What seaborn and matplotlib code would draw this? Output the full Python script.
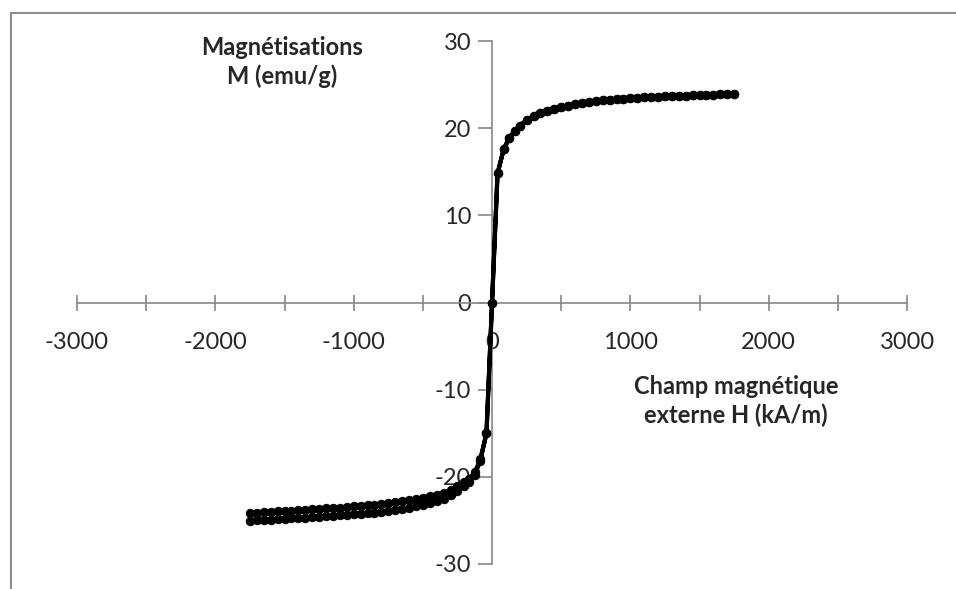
import pandas as pd
import matplotlib.pyplot as plt
import seaborn as sns
from matplotlib.lines import Line2D

# champ positif (les deux branches se superposent)
h_pos = [0, 40, 85, 125, 165, 200, 250, 300, 350, 400, 450, 500, 550, 600,
         650, 700, 750, 800, 850, 900, 950, 1000, 1050, 1100, 1150, 1200,
         1250, 1300, 1350, 1400, 1450, 1500, 1550, 1600, 1650, 1700, 1750]
m_pos = [0.0, 14.8, 17.6, 18.9, 19.7, 20.3, 20.9, 21.4, 21.7, 22.0, 22.25,
         22.45, 22.6, 22.75, 22.9, 23.0, 23.1, 23.2, 23.25, 23.3, 23.38,
         23.43, 23.48, 23.52, 23.56, 23.6, 23.64, 23.68, 23.71, 23.74, 23.77,
         23.8, 23.83, 23.86, 23.89, 23.92, 23.95]

# champ negatif (deux branches distinctes)
h_neg = [-40, -85, -125, -165, -200, -250, -300, -350, -400, -450, -500,
         -550, -600, -650, -700, -750, -800, -850, -900, -950, -1000, -1050,
         -1100, -1150, -1200, -1250, -1300, -1350, -1400, -1450, -1500,
         -1550, -1600, -1650, -1700, -1750]
m_neg_haut = [-15.0, -18.0, -19.5, -20.2, -20.6, -21.1, -21.5, -21.8, -22.05,
              -22.25, -22.4, -22.55, -22.7, -22.8, -22.9, -23.0, -23.1, -23.2,
              -23.25, -23.33, -23.4, -23.46, -23.52, -23.58, -23.63, -23.68,
              -23.73, -23.78, -23.82, -23.87, -23.91, -23.95, -24.0, -24.05,
              -24.1, -24.2]
m_neg_bas = [-15.0, -18.2, -19.8, -20.6, -21.0, -21.6, -22.1, -22.5, -22.8,
             -23.05, -23.2, -23.4, -23.55, -23.68, -23.8, -23.9, -24.0, -24.1,
             -24.15, -24.23, -24.3, -24.36, -24.42, -24.48, -24.53, -24.58,
             -24.63, -24.68, -24.72, -24.77, -24.81, -24.85, -24.9, -24.95,
             -25.0, -25.1]

x_labels = [-3000, -2000, -1000, 0, 1000, 2000, 3000]
x_minor = [-2500, -1500, -500, 500, 1500, 2500]
y_labels = [-30, -20, -10, 0, 10, 20, 30]

# boucle : descente de +1750 a -1750 puis remontee
loop = pd.DataFrame({
    "H": h_pos[::-1] + h_neg + h_neg[::-1] + h_pos,
    "M": m_pos[::-1] + m_neg_haut + m_neg_bas[::-1] + m_pos,
})

sns.set_theme(style="white")
plt.rcParams["font.family"] = ["Lato", "DejaVu Sans"]

fig = plt.figure(figsize=(9.56, 5.89), dpi=100)
ax = fig.add_axes([77 / 956, 1 - 564 / 589, 830 / 956, 523 / 589])

sns.lineplot(
    data=loop,
    x="H",
    y="M",
    sort=False,
    estimator=None,
    color="black",
    linewidth=3,
    marker="o",
    markersize=6,
    markeredgecolor="black",
    ax=ax,
    zorder=5
)

ax.set_xlim(-3000, 3000)
ax.set_ylim(-30, 30)

# axes qui se croisent en zero (style Excel)
grey = "#868686"
for side in ["top", "right"]:
    ax.spines[side].set_visible(False)
for side in ["left", "bottom"]:
    ax.spines[side].set_position(("data", 0))
    ax.spines[side].set_color(grey)
    ax.spines[side].set_linewidth(1.2)

ax.set_xticks(x_labels)
ax.set_xticks(x_minor, minor=True)
ax.set_yticks(y_labels)
ax.set_xticklabels([str(v) for v in x_labels])
ax.set_yticklabels([str(v) for v in y_labels])

ax.tick_params(axis="x", which="both", direction="inout", length=12,
               width=1.2, color=grey, labelsize=17, pad=15, bottom=True)
ax.tick_params(axis="y", which="major", direction="out", length=10,
               width=1.2, color=grey, labelsize=17, pad=5, left=True)
ax.set_xlabel("")
ax.set_ylabel("")

ax.text(282 / 956, 1 - 62 / 589, "Magnétisations\nM (emu/g)",
        transform=fig.transFigure, ha="center", va="center",
        fontsize=17, fontweight="bold", linespacing=1.25)
ax.text(736 / 956, 1 - 401 / 589, "Champ magnétique\nexterne H (kA/m)",
        transform=fig.transFigure, ha="center", va="center",
        fontsize=17, fontweight="bold", linespacing=1.3)

# cadre gris du graphique
fig.add_artist(Line2D([11 / 956, 11 / 956], [1 - 13 / 589, 0],
                      color="#8c8c8c", linewidth=1.5))
fig.add_artist(Line2D([11 / 956, 1], [1 - 13 / 589, 1 - 13 / 589],
                      color="#8c8c8c", linewidth=1.5))

fig.savefig("out.png", dpi=100)
